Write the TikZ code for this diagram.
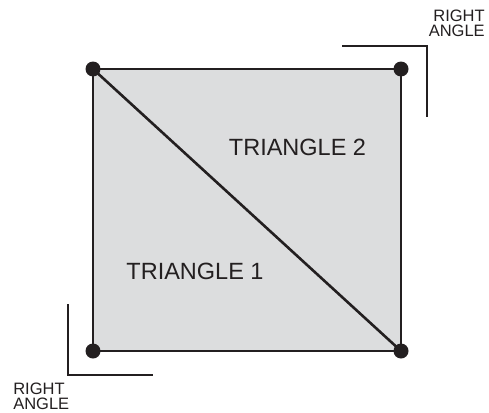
\documentclass[tikz,border=0pt]{standalone}
\usepackage{fontspec}
\setmainfont{Liberation Sans}
\definecolor{sqfill}{RGB}{220,221,222}
\definecolor{ink}{RGB}{35,31,32}
\begin{document}
\begin{tikzpicture}[x=1pt, y=-1pt, line width=2.6pt, ink,
    dot/.style={circle, fill=ink, inner sep=0pt, minimum size=15pt},
    angleline/.style={line width=2pt},
    lab/.style={inner sep=0pt, font=\fontsize{23.5}{26}\selectfont},
    note/.style={inner sep=0pt, font=\fontsize{16.5}{15}\selectfont}]
  \useasboundingbox (0,0) rectangle (489,412);
  % corner positions
  \def\xA{93} \def\xB{401}
  \def\yA{69} \def\yB{351}
  % ---- square and diagonal -------------------------------------------
  \fill[sqfill] (\xA,\yA) rectangle (\xB,\yB);
  \node[dot] (tl) at (\xA,\yA) {};
  \node[dot] (tr) at (\xB,\yA) {};
  \node[dot] (br) at (\xB,\yB) {};
  \node[dot] (bl) at (\xA,\yB) {};
  \draw (tl.center) -- (tr.center) -- (br.center) -- (bl.center) -- cycle;
  \draw (tl.center) -- (br.center);
  % ---- labels --------------------------------------------------------
  \node[lab] (t2) at (297.5,147.5) {TRIANGLE 2};
  \node[lab] (t1) at (195,271.5) {TRIANGLE 1};
  % ---- right angle marks ---------------------------------------------
  \coordinate (ra1) at (342,46);
  \coordinate (ra2) at (427,46);
  \coordinate (ra3) at (427,117);
  \draw[angleline] (ra1) -- (ra2) -- (ra3);
  \coordinate (rb1) at (68,304);
  \coordinate (rb2) at (68,375);
  \coordinate (rb3) at (153,375);
  \draw[angleline] (rb1) -- (rb2) -- (rb3);
  \node[note, align=right, anchor=north east] (ra) at (486,9) {RIGHT\\ANGLE};
  \node[note, align=left, anchor=north west] (rb) at (12,382) {RIGHT\\ANGLE};
\end{tikzpicture}
\end{document}
